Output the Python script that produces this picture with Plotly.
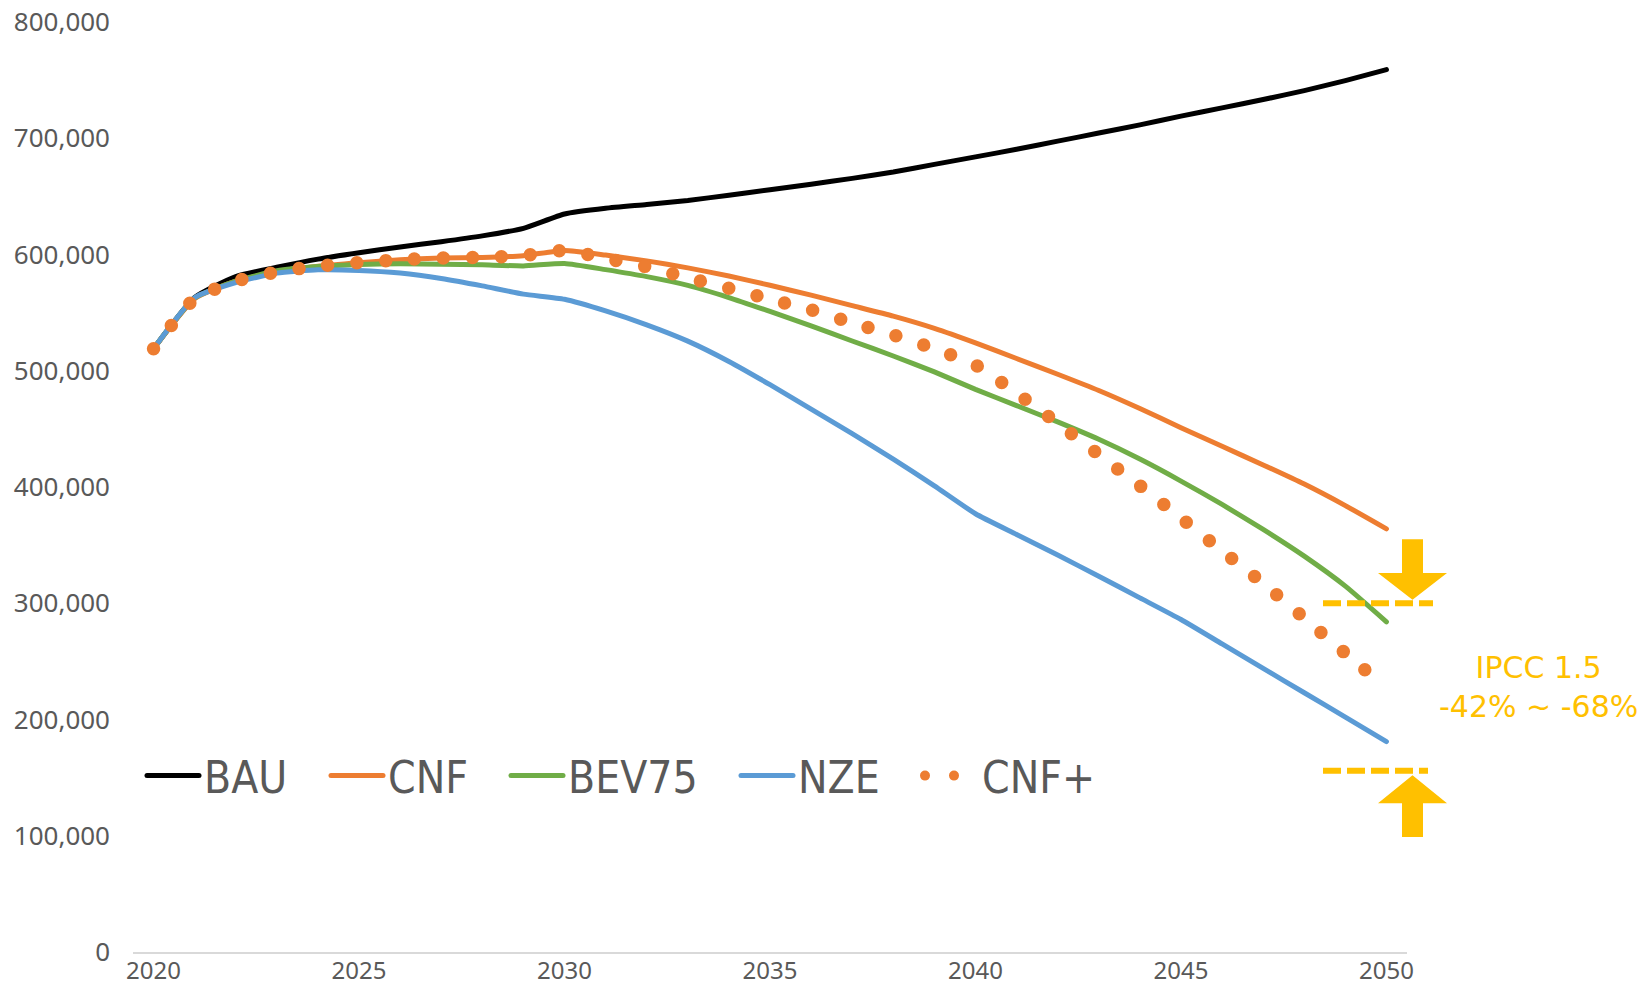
import plotly.graph_objects as go

# ---- data -------------------------------------------------------------
years = list(range(2020, 2051))

bau = [519000, 563000, 581000, 589000, 596000, 601500, 606500, 611000, 616000, 622500,
       634800, 639700, 643000, 646500, 651000, 655700, 660500, 665500, 671000, 677500,
       684000, 690500, 697500, 704500, 711500, 719000, 726100, 733300, 741000, 749600,
       759000]

cnf = [519000, 562000, 577000, 585000, 590000, 593000, 595500, 597000, 597500, 599000,
       603500, 599500, 594500, 588500, 581500, 573500, 565000, 556000, 547000, 536500,
       524000, 510500, 497000, 483000, 467500, 451000, 435000, 419000, 402500, 384000,
       364000]

bev75 = [519000, 562500, 577000, 586000, 589600, 591400, 592000, 591700, 591100, 590200,
         592300, 587000, 581000, 573500, 563000, 551000, 538600, 525600, 512700, 499000,
         484000, 470000, 456000, 441000, 424000, 405100, 385000, 363500, 340500, 314700,
         284000]

nze = [519000, 562800, 575900, 584000, 586800, 586300, 584000, 579400, 573000, 565900,
       561500, 551500, 539500, 525500, 508000, 488000, 467000, 446000, 424000, 401000,
       377000, 359200, 341500, 323200, 304600, 286000, 265000, 244000, 223000, 202000,
       181000]

cnf_plus = [519000, 562000, 577000, 585000, 590000, 593000, 595500, 597000, 597500, 599000,
            603500, 596600, 589400, 580000, 571000, 561500, 552400, 541200, 530800, 519000,
            505000, 480800, 454800, 427800, 401100, 373200, 345100, 317000, 287200, 256900,
            227000]

x_ticks = [2020, 2025, 2030, 2035, 2040, 2045, 2050]
y_ticks = [0, 100000, 200000, 300000, 400000, 500000, 600000, 700000, 800000]

# IPCC 1.5 reduction band
ipcc_upper = 300000
ipcc_lower = 156000
ipcc_label = "IPCC 1.5<br>-42% ~ -68%"

# ---- styling ----------------------------------------------------------
GOLD = "#FFC000"
TEXT_GREY = "#595959"
TICK_FONT = "Noto Sans, Open Sans, sans-serif"
NOTE_FONT = "DejaVu Sans, Noto Sans, sans-serif"
LEGEND_FONT = "Liberation Sans Narrow, DejaVu Sans Condensed, Noto Sans, sans-serif"

series = [
    ("BAU", bau, "#000000", 5, "solid"),
    ("CNF", cnf, "#ED7D31", 5, "solid"),
    ("BEV75", bev75, "#70AD47", 5, "solid"),
    ("NZE", nze, "#5B9BD5", 5, "solid"),
    ("CNF+", cnf_plus, "#ED7D31", 13.5, "0px,29px"),
]

# each series gets its own legend box so the entries can be spaced freely
legend_left_px = [152, 336, 516, 746, 930]
PLOT_L, PLOT_R = 133, 1407
PLOT_T, PLOT_B = 22, 952
W, H = 1642, 989


def px_to_paper_x(px):
    return (px - PLOT_L) / (PLOT_R - PLOT_L)


legend_y = (PLOT_B - 776) / (PLOT_B - PLOT_T)

fig = go.Figure()
legend_names = ["legend", "legend2", "legend3", "legend4", "legend5"]
for (name, vals, color, width, dash), lg in zip(series, legend_names):
    fig.add_trace(go.Scatter(
        x=years, y=vals, name=name, mode="lines",
        line=dict(color=color, width=width, dash=dash, shape="spline", smoothing=0.5),
        legend=lg, hoverinfo="skip",
    ))

layout_legends = {}
for lg, left in zip(legend_names, legend_left_px):
    layout_legends[lg] = dict(
        x=px_to_paper_x(left - 10), y=legend_y, xanchor="left", yanchor="middle",
        orientation="h", bgcolor="rgba(0,0,0,0)", borderwidth=0,
        font=dict(family=LEGEND_FONT, size=44, color=TEXT_GREY),
        itemwidth=52, itemclick=False, itemdoubleclick=False,
    )

# dashed limits of the IPCC band
shapes = []
for level, x_end in ((ipcc_upper, 1433), (ipcc_lower, 1428)):
    shapes.append(dict(
        type="line", xref="paper", yref="y",
        x0=px_to_paper_x(1323), x1=px_to_paper_x(x_end), y0=level, y1=level,
        line=dict(color=GOLD, width=6, dash="18px,6px"),
    ))

# block arrows pointing into the band
head_l, head_r = px_to_paper_x(1378), px_to_paper_x(1447)
shaft_l, shaft_r = px_to_paper_x(1402), px_to_paper_x(1423)
tip_x = px_to_paper_x(1412.5)


def block_arrow(tip_y, base_y, tail_y):
    return (f"M{tip_x},{tip_y} L{head_r},{base_y} L{shaft_r},{base_y} L{shaft_r},{tail_y} "
            f"L{shaft_l},{tail_y} L{shaft_l},{base_y} L{head_l},{base_y} Z")


shapes.append(dict(type="path", xref="paper", yref="y",
                   path=block_arrow(ipcc_upper + 3000, ipcc_upper + 26000, ipcc_upper + 55000),
                   fillcolor=GOLD, line=dict(width=0)))
shapes.append(dict(type="path", xref="paper", yref="y",
                   path=block_arrow(ipcc_lower - 4000, ipcc_lower - 28000, ipcc_lower - 57000),
                   fillcolor=GOLD, line=dict(width=0)))

fig.update_layout(
    width=W, height=H,
    margin=dict(l=PLOT_L, r=W - PLOT_R, t=PLOT_T, b=H - PLOT_B, pad=0, autoexpand=False),
    paper_bgcolor="white", plot_bgcolor="white",
    showlegend=True,
    shapes=shapes,
    annotations=[dict(
        text=ipcc_label, xref="paper", yref="y",
        x=px_to_paper_x(1538), y=(ipcc_upper + ipcc_lower) / 2,
        showarrow=False, xanchor="center", yanchor="middle", align="center",
        font=dict(family=NOTE_FONT, size=30, color=GOLD),
    )],
    xaxis=dict(
        range=[2019.5, 2050.5], tickvals=x_ticks, ticktext=[str(t) for t in x_ticks],
        showgrid=False, zeroline=False, showline=True, linecolor="#D9D9D9", linewidth=2,
        ticks="", ticklabelstandoff=-4, automargin=False,
        tickfont=dict(family=TICK_FONT, size=24, color=TEXT_GREY),
    ),
    yaxis=dict(
        range=[0, 800000], tickvals=y_ticks, tickformat=",",
        showgrid=False, zeroline=False, showline=False, ticks="",
        ticklabelstandoff=22, automargin=False,
        tickfont=dict(family=TICK_FONT, size=26, color=TEXT_GREY),
    ),
    **layout_legends,
)

post = (
    "document.body.style.margin='0';"
    "var s=document.createElement('style');"
    "s.textContent='.js-line{stroke-linecap:round !important;}';"
    "document.head.appendChild(s);"
)

fig.write_html("out.html", config={"displayModeBar": False}, post_script=post)
